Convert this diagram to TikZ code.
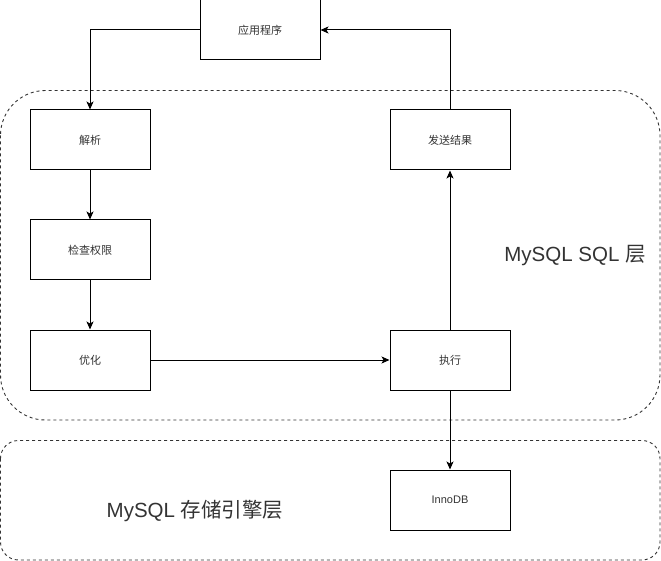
\documentclass[tikz,border=0pt]{standalone}
\usepackage{fontspec}
\setmainfont{Liberation Sans}
\newfontfamily\cjk{Noto Sans CJK SC}
\usetikzlibrary{arrows,arrows.meta,positioning}
\definecolor{txtgray}{RGB}{51,51,51}
\tikzstyle{block} = [draw, line width=1pt, minimum width=120pt, minimum height=60pt, inner sep=0pt, font=\cjk\fontsize{11}{13}\selectfont, text=txtgray]
\tikzstyle{flow} = [line width=1pt,-{Stealth[length=8pt,width=7pt,inset=2pt]}]
\tikzstyle{layer} = [line width=0.9pt, dash pattern=on 3pt off 3pt, black!80]
\tikzstyle{layertext} = [font=\fontsize{20.5}{24}\selectfont, text=txtgray]

\begin{document}
\begin{tikzpicture}[x=1pt,y=-1pt]
            \useasboundingbox (0,0) rectangle (661,561);
            % layers
            \draw[layer, rounded corners=45pt] (0.5,90.5) rectangle (660,420);
            \draw[layer, rounded corners=18pt] (0.5,440.5) rectangle (660,560);
            \node[layertext] (sqllabel) at (575,256) {MySQL SQL {\cjk 层}};
            \node[layertext] (enginelabel) at (195,511) {MySQL {\cjk 存储引擎层}};
            % steps
            \node[block] (app) at (260,30) {应用程序};
            \node[block] (parse) at (90,140) {解析};
            \node[block] (check) at (90,250) {检查权限};
            \node[block] (optim) at (90,360) {优化};
            \node[block] (send) at (450,140) {发送结果};
            \node[block] (exec) at (450,360) {执行};
            \node[block, font=\fontsize{11}{13}\selectfont] (innodb) at (450,500) {InnoDB};
            \draw[flow] (app.west) -| (parse.north);
            \draw[flow] (parse) -- (check);
            \draw[flow] (check) -- (optim);
            \draw[flow] (optim) -- (exec);
            \draw[flow] (exec) -- (send);
            \draw[flow] (send.north) |- (app.east);
            \draw[flow] (exec) -- (innodb);
        \end{tikzpicture}
\end{document}
